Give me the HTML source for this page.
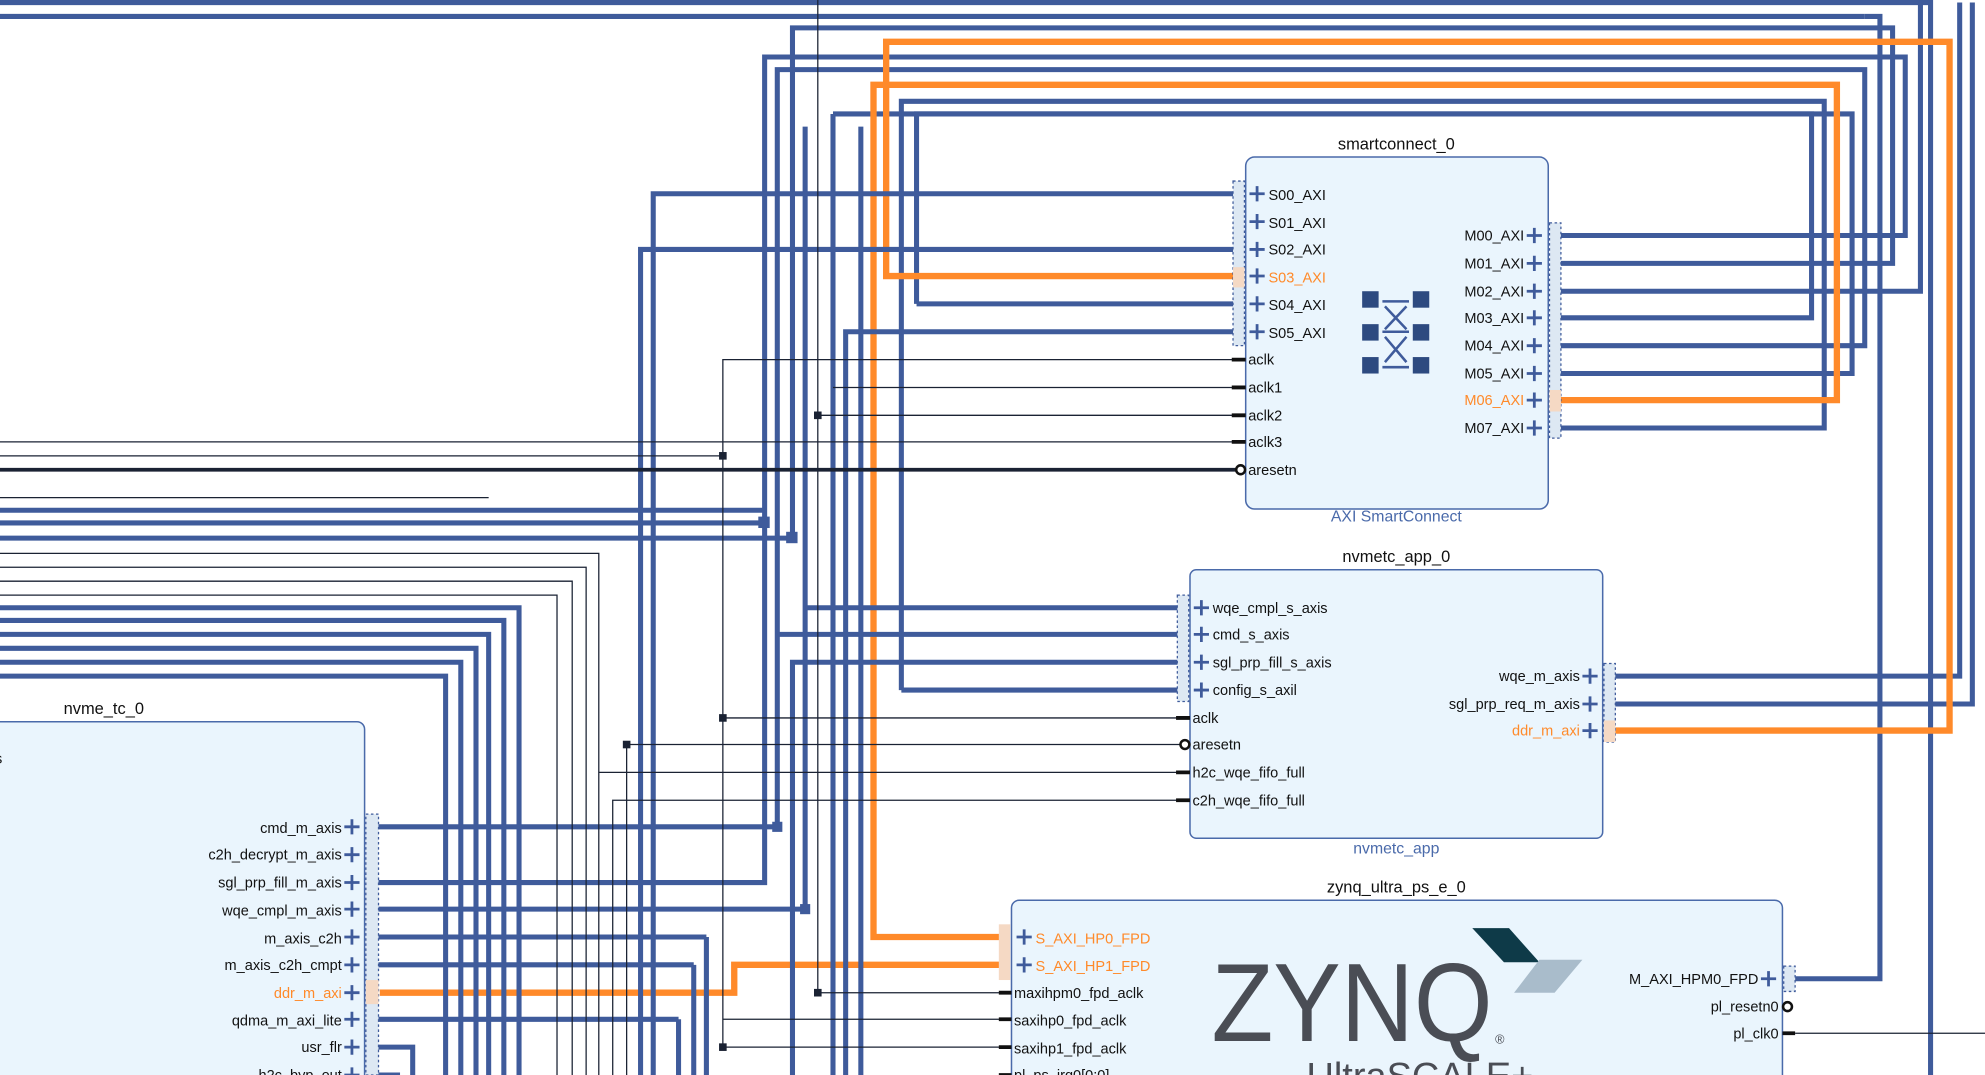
<!DOCTYPE html>
<html><head><meta charset="utf-8"><style>
html,body{margin:0;padding:0;background:#fff;overflow:hidden}
svg{display:block}
.b{stroke:#3f5b9b;stroke-width:4;fill:none}
.o{stroke:#ff8a2a;stroke-width:5;fill:none}
.t{stroke:#1a2233;stroke-width:1;fill:none}
.k{stroke:#1a2233;stroke-width:3;fill:none}
text{font-family:"Liberation Sans",sans-serif;font-size:11.5px;fill:#111}
.ti{font-size:13px}
.sub{fill:#4a6aaa;font-size:12.5px}
.or{fill:#ff8a2a}
.blk{fill:#eaf5fd;stroke:#4a6aaa;stroke-width:1.2}
</style></head><body>
<svg width="1985" height="1075" viewBox="0 0 1568 849" preserveAspectRatio="none">
<polyline class="b" points="0,2 1525,2 1525,849"/>
<polyline class="b" points="1473,13 1485,13 1485,773 1418,773"/>
<polyline class="b" points="626,425 626,22 1495,22 1495,208 1232,208"/>
<polyline class="b" points="604,413 604,45 1505,45 1505,186 1232,186"/>
<polyline class="b" points="614,653 614,55 1473,55 1473,273 1232,273"/>
<polyline class="b" points="636,718 636,480 636,100"/>
<polyline class="b" points="658,90 1463,90 1463,295 1232,295"/>
<polyline class="b" points="712,545 712,80 1441,80 1441,338 1232,338"/>
<polyline class="b" points="724,240 724,90 1431,90 1431,251 1232,251"/>
<polyline class="b" points="1232,230 1517,230 1517,2"/>
<polyline class="b" points="1270,556 1558,556 1558,2"/>
<polyline class="b" points="1270,534 1548,534 1548,2"/>
<polyline class="b" points="0,13 1473,13"/>
<polyline class="o" points="980,218 700,218 700,33 1540,33 1540,577 1270,577"/>
<polyline class="o" points="1232,316 1451,316 1451,67 690,67 690,740 793,740"/>
<polyline class="o" points="300,784 580,784 580,762 793,762"/>
<polyline class="b" points="978,153 516,153 516,849"/>
<polyline class="b" points="978,197 506,197 506,849"/>
<polyline class="b" points="978,240 724,240"/>
<polyline class="b" points="978,262 668,262 668,849"/>
<polyline class="b" points="934,480 636,480"/>
<polyline class="b" points="934,501 614,501"/>
<polyline class="b" points="934,523 626,523 626,849"/>
<polyline class="b" points="934,545 712,545"/>
<polyline class="b" points="0,403 604,403"/>
<polyline class="b" points="0,413 604,413"/>
<polyline class="b" points="0,425 626,425"/>
<polyline class="b" points="0,480 410,480 410,849"/>
<polyline class="b" points="0,490 398,490 398,849"/>
<polyline class="b" points="0,501 386,501 386,849"/>
<polyline class="b" points="0,512 376,512 376,849"/>
<polyline class="b" points="0,523 364,523 364,849"/>
<polyline class="b" points="0,534 352,534 352,849"/>
<polyline class="b" points="536,805 536,849"/>
<polyline class="b" points="548,762 548,849"/>
<polyline class="b" points="558,740 558,849"/>
<polyline class="b" points="658,90 658,849"/>
<polyline class="b" points="680,100 680,849"/>
<polyline class="b" points="296,653 614,653"/>
<polyline class="b" points="296,697 604,697 604,413"/>
<polyline class="b" points="296,718 636,718"/>
<polyline class="b" points="296,740 558,740"/>
<polyline class="b" points="296,762 548,762"/>
<polyline class="b" points="296,805 536,805"/>
<polyline class="b" points="296,827 326,827 326,849"/>
<polyline class="b" points="296,849 316,849"/>
<rect x="610" y="649" width="8" height="8" fill="#3f5b9b"/>
<rect x="632" y="714" width="8" height="8" fill="#3f5b9b"/>
<rect x="599" y="408" width="9" height="9" fill="#3f5b9b"/>
<rect x="621" y="420" width="9" height="9" fill="#3f5b9b"/>
<polyline class="t" points="978,284 571,284 571,827 793,827"/>
<polyline class="t" points="978,306 658,306"/>
<polyline class="t" points="978,328 646,328"/>
<polyline class="t" points="646,0 646,784 793,784"/>
<polyline class="t" points="0,349 978,349"/>
<polyline class="t" points="0,360 571,360"/>
<polyline class="t" points="0,393 386,393"/>
<polyline class="t" points="0,437 473,437 473,849"/>
<polyline class="t" points="0,448 463,448 463,849"/>
<polyline class="t" points="0,459 452,459 452,849"/>
<polyline class="t" points="0,470 440,470 440,849"/>
<polyline class="t" points="571,567 934,567"/>
<polyline class="t" points="495,588 934,588"/>
<polyline class="t" points="495,588 495,849"/>
<polyline class="t" points="473,610 934,610"/>
<polyline class="t" points="484,632 934,632 484,632 484,849"/>
<polyline class="t" points="571,805 793,805"/>
<polyline class="t" points="1418,816 1568,816"/>
<polyline class="k" points="0,371 978,371"/>
<rect x="568" y="357" width="6" height="6" fill="#1a2233"/>
<rect x="568" y="564" width="6" height="6" fill="#1a2233"/>
<rect x="492" y="585" width="6" height="6" fill="#1a2233"/>
<rect x="643" y="325" width="6" height="6" fill="#1a2233"/>
<rect x="643" y="781" width="6" height="6" fill="#1a2233"/>
<rect x="568" y="824" width="6" height="6" fill="#1a2233"/>

<text class="ti" x="1103" y="118" text-anchor="middle">smartconnect_0</text>
<rect class="blk" x="984" y="124" width="239" height="278" rx="7"/>
<text class="sub" x="1103" y="412" text-anchor="middle">AXI SmartConnect</text>
<rect x="974" y="143" width="9" height="130" fill="#dde8f3" stroke="#3f5b9b" stroke-dasharray="2,2"/>
<rect x="974" y="211" width="9" height="16" fill="#f5d9c4"/>
<g fill="#111">
<text x="1002" y="158">S00_AXI</text><text x="1002" y="180">S01_AXI</text><text x="1002" y="201">S02_AXI</text>
<text x="1002" y="223" class="or">S03_AXI</text><text x="1002" y="245">S04_AXI</text><text x="1002" y="267">S05_AXI</text>
<text x="986" y="288">aclk</text><text x="986" y="310">aclk1</text><text x="986" y="332">aclk2</text><text x="986" y="353">aclk3</text><text x="986" y="375">aresetn</text>
<text x="1204" y="190" text-anchor="end">M00_AXI</text><text x="1204" y="212" text-anchor="end">M01_AXI</text><text x="1204" y="234" text-anchor="end">M02_AXI</text>
<text x="1204" y="255" text-anchor="end">M03_AXI</text><text x="1204" y="277" text-anchor="end">M04_AXI</text><text x="1204" y="299" text-anchor="end">M05_AXI</text>
<text x="1204" y="320" text-anchor="end" class="or">M06_AXI</text><text x="1204" y="342" text-anchor="end">M07_AXI</text>
</g>
<rect x="1224" y="176" width="9" height="170" fill="#dde8f3" stroke="#3f5b9b" stroke-dasharray="2,2"/>
<rect x="1224" y="308" width="9" height="17" fill="#f5d9c4"/>
<g stroke="#3f5b9b" stroke-width="2.2">
<path d="M987,153h12M993,147v12M987,175h12M993,169v12M987,197h12M993,191v12M987,218h12M993,212v12M987,240h12M993,234v12M987,262h12M993,256v12"/>
<path d="M1206,186h12M1212,180v12M1206,208h12M1212,202v12M1206,230h12M1212,224v12M1206,251h12M1212,245v12M1206,273h12M1212,267v12M1206,295h12M1212,289v12M1206,316h12M1212,310v12M1206,338h12M1212,332v12"/>
</g>
<g stroke="#111" stroke-width="3"><path d="M973,284h11M973,306h11M973,328h11M973,349h11"/></g>
<circle cx="980" cy="371" r="3.5" fill="#fff" stroke="#111" stroke-width="2"/>
<g fill="#2d4a80"><rect x="1076" y="230" width="13" height="13"/><rect x="1116" y="230" width="13" height="13"/><rect x="1076" y="256" width="13" height="13"/><rect x="1116" y="256" width="13" height="13"/><rect x="1076" y="282" width="13" height="13"/><rect x="1116" y="282" width="13" height="13"/></g>
<g stroke="#3f5b9b" stroke-width="2"><path d="M1092,238h21M1092,262h21M1092,290h21M1094,242l17,18M1111,242l-17,18M1094,266l17,20M1111,266l-17,20"/></g>

<text class="ti" x="1103" y="444" text-anchor="middle">nvmetc_app_0</text>
<rect class="blk" x="940" y="450" width="326" height="212" rx="5"/>
<text class="sub" x="1103" y="674" text-anchor="middle">nvmetc_app</text>
<rect x="930" y="470" width="9" height="84" fill="#dde8f3" stroke="#3f5b9b" stroke-dasharray="2,2"/>
<rect x="1267" y="524" width="9" height="62" fill="#dde8f3" stroke="#3f5b9b" stroke-dasharray="2,2"/>
<rect x="1267" y="569" width="9" height="17" fill="#f5d9c4"/>
<text x="958" y="484">wqe_cmpl_s_axis</text><text x="958" y="505">cmd_s_axis</text><text x="958" y="527">sgl_prp_fill_s_axis</text><text x="958" y="549">config_s_axil</text>
<text x="942" y="571">aclk</text><text x="942" y="592">aresetn</text><text x="942" y="614">h2c_wqe_fifo_full</text><text x="942" y="636">c2h_wqe_fifo_full</text>
<text x="1248" y="538" text-anchor="end">wqe_m_axis</text><text x="1248" y="560" text-anchor="end">sgl_prp_req_m_axis</text><text x="1248" y="581" text-anchor="end" class="or">ddr_m_axi</text>
<g stroke="#3f5b9b" stroke-width="2.2"><path d="M943,480h12M949,474v12M943,501h12M949,495v12M943,523h12M949,517v12M943,545h12M949,539v12M1250,534h12M1256,528v12M1250,556h12M1256,550v12M1250,577h12M1256,571v12"/></g>
<g stroke="#111" stroke-width="3"><path d="M929,567h11M929,610h11M929,632h11"/></g>
<circle cx="936" cy="588" r="3.5" fill="#fff" stroke="#111" stroke-width="2"/>

<text class="ti" x="1103" y="705" text-anchor="middle">zynq_ultra_ps_e_0</text>
<rect class="blk" x="799" y="711" width="609" height="160" rx="6"/>
<rect x="789" y="730" width="9" height="44" fill="#f5d9c4"/>
<rect x="1409" y="763" width="9" height="20" fill="#dde8f3" stroke="#3f5b9b" stroke-dasharray="2,2"/>
<text x="818" y="745" class="or">S_AXI_HP0_FPD</text><text x="818" y="767" class="or">S_AXI_HP1_FPD</text>
<text x="801" y="788">maxihpm0_fpd_aclk</text><text x="801" y="810">saxihp0_fpd_aclk</text><text x="801" y="832">saxihp1_fpd_aclk</text><text x="801" y="853">pl_ps_irq0[0:0]</text>
<text x="1389" y="777" text-anchor="end">M_AXI_HPM0_FPD</text><text x="1405" y="799" text-anchor="end">pl_resetn0</text><text x="1405" y="820" text-anchor="end">pl_clk0</text>
<g stroke="#3f5b9b" stroke-width="2.2"><path d="M803,740h12M809,734v12M803,762h12M809,756v12M1391,773h12M1397,767v12"/></g>
<g stroke="#111" stroke-width="3"><path d="M789,784h10M789,805h10M789,827h10M789,849h10M1408,816h10"/></g>
<circle cx="1412" cy="795" r="3.5" fill="#fff" stroke="#111" stroke-width="2"/>
<polygon points="1163,733 1192,733 1216,760 1188,760" fill="#0e3a48"/>
<polygon points="1216,758 1250,758 1228,784 1196,784" fill="#a9bccb"/>
<text x="957" y="822" textLength="222" lengthAdjust="spacingAndGlyphs" style="font-size:88px;fill:#4a4d55">ZYNQ</text>
<text x="1181" y="824" style="font-size:10px;fill:#4a4d55">®</text>
<text x="1032" y="860" style="font-size:30px;fill:#4a4d55">UltraSCALE+</text>

<text class="ti" x="82" y="564" text-anchor="middle">nvme_tc_0</text>
<rect class="blk" x="-10" y="570" width="298" height="300" rx="6"/>
<text x="-4" y="603">s</text>
<rect x="289" y="643" width="10" height="206" fill="#dde8f3" stroke="#3f5b9b" stroke-dasharray="2,2"/>
<rect x="289" y="774" width="10" height="19" fill="#f5d9c4"/>
<g>
<text x="270" y="658" text-anchor="end">cmd_m_axis</text><text x="270" y="679" text-anchor="end">c2h_decrypt_m_axis</text>
<text x="270" y="701" text-anchor="end">sgl_prp_fill_m_axis</text><text x="270" y="723" text-anchor="end">wqe_cmpl_m_axis</text>
<text x="270" y="745" text-anchor="end">m_axis_c2h</text><text x="270" y="766" text-anchor="end">m_axis_c2h_cmpt</text>
<text x="270" y="788" text-anchor="end" class="or">ddr_m_axi</text><text x="270" y="810" text-anchor="end">qdma_m_axi_lite</text>
<text x="270" y="831" text-anchor="end">usr_flr</text><text x="270" y="853" text-anchor="end">h2c_byp_out</text>
</g>
<g stroke="#3f5b9b" stroke-width="2.2"><path d="M272,653h12M278,647v12M272,675h12M278,669v12M272,697h12M278,691v12M272,718h12M278,712v12M272,740h12M278,734v12M272,762h12M278,756v12M272,784h12M278,778v12M272,805h12M278,799v12M272,827h12M278,821v12M272,849h12M278,843v12"/></g>
</svg>
</body></html>
